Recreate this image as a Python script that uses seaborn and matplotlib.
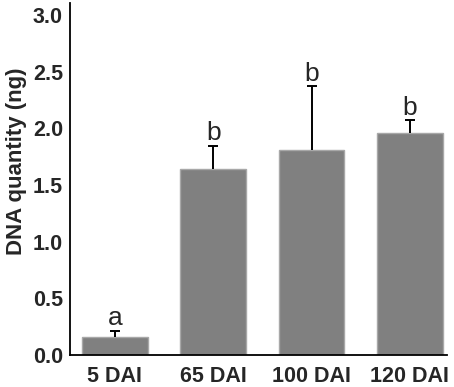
import numpy as np
import pandas as pd
import seaborn as sns
import matplotlib.pyplot as plt

# values
stages = ["5 DAI", "65 DAI", "100 DAI", "120 DAI"]
dna_mean = [0.16, 1.64, 1.81, 1.96]
dna_err = [0.055, 0.205, 0.56, 0.11]
letters = ["a", "b", "b", "b"]

sns.set_style("white")
plt.rcParams["font.family"] = ["Liberation Sans", "DejaVu Sans"]

df = pd.DataFrame({"stage": stages, "dna": dna_mean})

fig = plt.figure(figsize=(4.54, 3.87), dpi=100)
ax = fig.add_axes([0.154, 0.083, 0.831, 0.909])

sns.barplot(data=df, x="stage", y="dna", color="#808080", saturation=1,
            width=0.67, edgecolor="#a8a8a8", linewidth=1, ax=ax)
for p in ax.patches:
    p.set_zorder(2)

# upper-only error bars
x = np.arange(len(stages))
top = np.array(dna_mean) + np.array(dna_err)
ax.vlines(x, dna_mean, top, color="black", lw=1.4, zorder=3)
ax.plot(x, top, ls="none", marker="_", ms=7, mew=1.4, color="black", zorder=3)

for i, (t, lab) in enumerate(zip(top, letters)):
    ax.text(i, t + 0.05, lab, ha="center", va="baseline", fontsize=19)

ax.set_ylim(0, 3.105)
ax.set_xlim(-0.458, 3.38)
ax.set_yticks([0, 0.5, 1.0, 1.5, 2.0, 2.5, 3.0])
ax.set_yticklabels([f"{v:.1f}" for v in ax.get_yticks()])
ax.set_xlabel("")
ax.set_ylabel("DNA quantity (ng)", fontsize=16, fontweight="bold")
ax.yaxis.set_label_coords(-0.115, 0.55)
ax.tick_params(axis="both", length=0, labelsize=15.5)
ax.tick_params(axis="y", pad=5)
ax.tick_params(axis="x", pad=8)
for t in ax.get_xticklabels() + ax.get_yticklabels():
    t.set_fontweight("bold")

sns.despine(ax=ax)
for s in ["left", "bottom"]:
    ax.spines[s].set_color("black")
    ax.spines[s].set_linewidth(1.3)

fig.savefig("out.png", dpi=100)
